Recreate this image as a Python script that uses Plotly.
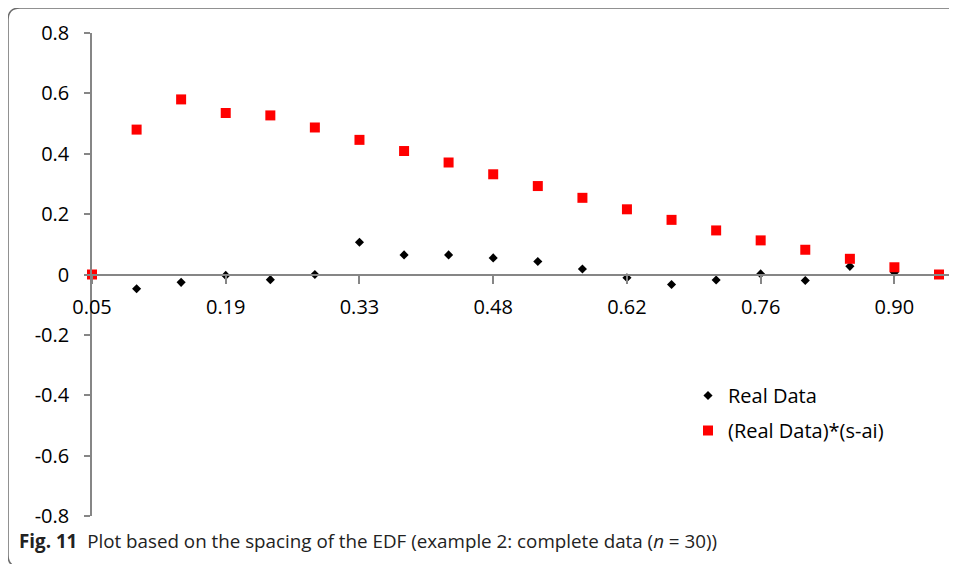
import numpy as np
import plotly.graph_objects as go

# ---- data ----
x_values = [0.05, 0.0974, 0.1447, 0.1921, 0.2395, 0.2868, 0.3342, 0.3816, 0.4289, 0.4763,
            0.5237, 0.5711, 0.6184, 0.6658, 0.7132, 0.7605, 0.8079, 0.8553, 0.9026, 0.95]
real_data = [0.0, -0.047, -0.026, -0.003, -0.017, 0.0, 0.107, 0.065, 0.065, 0.055,
             0.043, 0.018, -0.011, -0.033, -0.018, 0.002, -0.020, 0.027, 0.007, 0.0]
real_data_s_ai = [0.0, 0.480, 0.580, 0.535, 0.527, 0.487, 0.446, 0.409, 0.371, 0.332,
                  0.293, 0.254, 0.216, 0.181, 0.146, 0.113, 0.082, 0.052, 0.024, 0.0]
x_tick_vals = [0.05, 0.1921, 0.3342, 0.4763, 0.6184, 0.7605, 0.9026]
x_tick_text = ["0.05", "0.19", "0.33", "0.48", "0.62", "0.76", "0.90"]
y_tick_vals = [0.8, 0.6, 0.4, 0.2, 0.0, -0.2, -0.4, -0.6, -0.8]
y_tick_text = ["0.8", "0.6", "0.4", "0.2", "0", "-0.2", "-0.4", "-0.6", "-0.8"]
series_names = ["Real Data", "(Real Data)*(s-ai)"]

# page body has an 8px default margin; compensate so window coords match
OFF = 8
W, H = 957 - OFF, 564 - OFF
L, R, T, B = 92 - OFF, 5, 33 - OFF, 48
PW, PH = W - L - R, H - T - B

def px(xp):  # window pixel -> paper
    return (xp - OFF - L) / PW

def py(yp):
    return (H - B - (yp - OFF)) / PH

FONT = "Open Sans"
AXC = "#868686"

fig = go.Figure()
fig.add_trace(go.Scatter(
    x=x_values, y=real_data, mode="markers", name=series_names[0],
    marker=dict(symbol="diamond", size=7, color="black"),
    cliponaxis=False, legendgroup="a"))
fig.add_trace(go.Scatter(
    x=x_values, y=real_data_s_ai, mode="markers", name=series_names[1],
    marker=dict(symbol="square", size=10, color="#ff0000"),
    cliponaxis=False, legendgroup="b"))

# rounded border frame
r = 12
x0, x1, y0, y1 = 8, 975, 8, 567
path = (f"M {px(x0 + r)} {py(y0)} L {px(x1 - r)} {py(y0)} "
        f"Q {px(x1)} {py(y0)} {px(x1)} {py(y0 + r)} L {px(x1)} {py(y1 - r)} "
        f"Q {px(x1)} {py(y1)} {px(x1 - r)} {py(y1)} L {px(x0 + r)} {py(y1)} "
        f"Q {px(x0)} {py(y1)} {px(x0)} {py(y1 - r)} L {px(x0)} {py(y0 + r)} "
        f"Q {px(x0)} {py(y0)} {px(x0 + r)} {py(y0)} Z")

fig.update_layout(
    width=W, height=H,
    margin=dict(l=L, r=R, t=T, b=B, autoexpand=False),
    paper_bgcolor="white", plot_bgcolor="white",
    font=dict(family=FONT, size=20, color="black"),
    showlegend=True,
    legend=dict(x=px(688), y=py(376), xanchor="left", yanchor="top",
                font=dict(family=FONT, size=20, color="black"),
                bgcolor="rgba(0,0,0,0)", tracegroupgap=6),
    xaxis=dict(range=[0.05, 0.9638], showgrid=False, zeroline=False,
               showline=True, linecolor=AXC, linewidth=1.5,
               ticks="outside", ticklen=9, tickcolor=AXC, tickwidth=1.5,
               tickvals=x_tick_vals, ticktext=x_tick_text, automargin=False,
               anchor="free", position=0.5, ticklabelstandoff=6),
    yaxis=dict(range=[-0.8, 0.8], showgrid=False, zeroline=False,
               showline=True, linecolor=AXC, linewidth=1.5,
               ticks="outside", ticklen=6, tickcolor=AXC, tickwidth=1.5,
               tickvals=y_tick_vals, ticktext=y_tick_text, automargin=False,
               ticklabelstandoff=11),
    shapes=[dict(type="path", xref="paper", yref="paper", path=path,
                 line=dict(color="#6e6e6e", width=1.5), layer="below")],
    annotations=[dict(
        xref="paper", yref="paper", x=px(17), y=py(541),
        xanchor="left", yanchor="middle", showarrow=False,
        text="<b>Fig. 11</b>  Plot based on the spacing of the EDF (example 2: complete data (<i>n</i> = 30))",
        font=dict(family=FONT, size=18.8, color="#222222"))],
)

fig.write_html("out.html")
